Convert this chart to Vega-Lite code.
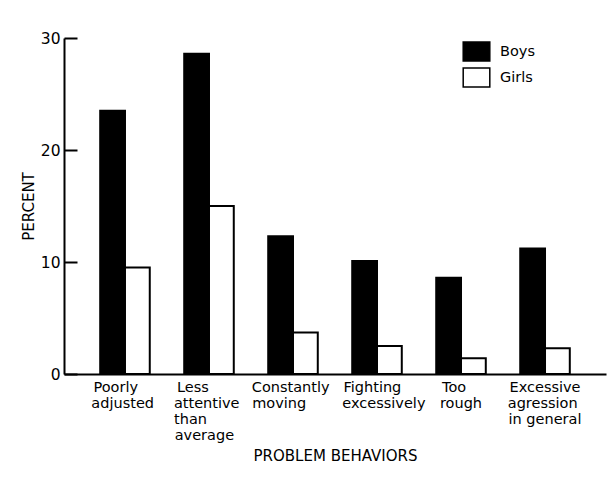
{
  "$schema": "https://vega.github.io/schema/vega-lite/v6.json",
  "autosize": "none",
  "padding": {"left": 64, "top": 38, "right": 1, "bottom": 109},
  "width": 542,
  "height": 336,
  "background": "white",
  "data": {
    "values": [
      {"behavior": "Poorly adjusted", "sex": "Boys", "percent": 23.5},
      {"behavior": "Poorly adjusted", "sex": "Girls", "percent": 9.5},
      {"behavior": "Less attentive than average", "sex": "Boys", "percent": 28.6},
      {"behavior": "Less attentive than average", "sex": "Girls", "percent": 15.0},
      {"behavior": "Constantly moving", "sex": "Boys", "percent": 12.3},
      {"behavior": "Constantly moving", "sex": "Girls", "percent": 3.7},
      {"behavior": "Fighting excessively", "sex": "Boys", "percent": 10.1},
      {"behavior": "Fighting excessively", "sex": "Girls", "percent": 2.5},
      {"behavior": "Too rough", "sex": "Boys", "percent": 8.6},
      {"behavior": "Too rough", "sex": "Girls", "percent": 1.4},
      {"behavior": "Excessive agression in general", "sex": "Boys", "percent": 11.2},
      {"behavior": "Excessive agression in general", "sex": "Girls", "percent": 2.3}
    ]
  },
  "mark": {"type": "bar", "stroke": "black", "strokeWidth": 2},
  "encoding": {
    "x": {
      "field": "behavior",
      "type": "nominal",
      "sort": null,
      "scale": {"paddingInner": 0.41, "paddingOuter": 0.431},
      "axis": {
        "title": "PROBLEM BEHAVIORS",
        "titleFont": "DejaVu Sans",
        "titleFontSize": 15,
        "titleFontWeight": "normal",
        "titleColor": "black",
        "titlePadding": 7,
        "labelAngle": 0,
        "labelAlign": "center",
        "labelBaseline": "top",
        "labelPadding": 6,
        "labelFont": "DejaVu Sans",
        "labelFontSize": 14.5,
        "labelColor": "black",
        "labelLineHeight": 16,
        "labelExpr": "{'Poorly adjusted': ['\u200b\u00a0Poorly\u00a0\u00a0\u00a0\u00a0\u00a0\u200b','adjusted\u00a0\u200b'], 'Less attentive than average': ['\u200b\u00a0Less\u00a0\u00a0\u00a0\u00a0\u00a0\u00a0\u00a0\u00a0\u200b','attentive\u00a0\u200b','than\u00a0\u00a0\u00a0\u00a0\u00a0\u00a0\u00a0\u00a0\u200b','average\u00a0\u00a0\u200b'], 'Constantly moving': ['Constantly\u00a0\u200b','moving\u00a0\u00a0\u00a0\u00a0\u00a0\u00a0\u200b'], 'Fighting excessively': ['\u200b\u00a0\u00a0\u00a0Fighting\u00a0\u00a0\u00a0\u00a0\u00a0\u200b','\u200b\u00a0\u00a0\u00a0excessively'], 'Too rough': ['Too\u00a0\u00a0\u00a0\u200b','rough'], 'Excessive agression in general': ['Excessive','agression\u00a0\u200b','in general']}[datum.value]",
        "labelLimit": 200,
        "ticks": false,
        "domainColor": "black",
        "domainWidth": 2
      }
    },
    "xOffset": {
      "field": "sex",
      "type": "nominal",
      "scale": {"paddingInner": 0, "paddingOuter": 0}
    },
    "y": {
      "field": "percent",
      "type": "quantitative",
      "scale": {"domain": [0, 30], "nice": false},
      "axis": {
        "title": "PERCENT",
        "titleFont": "DejaVu Sans",
        "titleFontSize": 15,
        "titleFontWeight": "normal",
        "titleColor": "black",
        "titlePadding": 4,
        "values": [0, 10, 20, 30],
        "grid": false,
        "tickSize": -13,
        "tickColor": "black",
        "tickWidth": 2,
        "labelFont": "DejaVu Sans",
        "labelFontSize": 15.5,
        "labelColor": "black",
        "labelPadding": 17,
        "domainColor": "black",
        "domainWidth": 2
      }
    },
    "fill": {
      "field": "sex",
      "type": "nominal",
      "scale": {"domain": ["Boys", "Girls"], "range": ["black", "white"]},
      "legend": {
        "title": null,
        "orient": "none",
        "legendX": 402,
        "legendY": 3,
        "symbolType": "M-1.4,-1H1.4V1H-1.4Z",
        "symbolSize": 361,
        "symbolStrokeColor": "black",
        "symbolStrokeWidth": 1.5,
        "labelFont": "DejaVu Sans",
        "labelFontSize": 14.5,
        "labelColor": "black",
        "labelOffset": 13,
        "rowPadding": 1
      }
    }
  },
  "config": {
    "view": {"stroke": null}
  }
}
